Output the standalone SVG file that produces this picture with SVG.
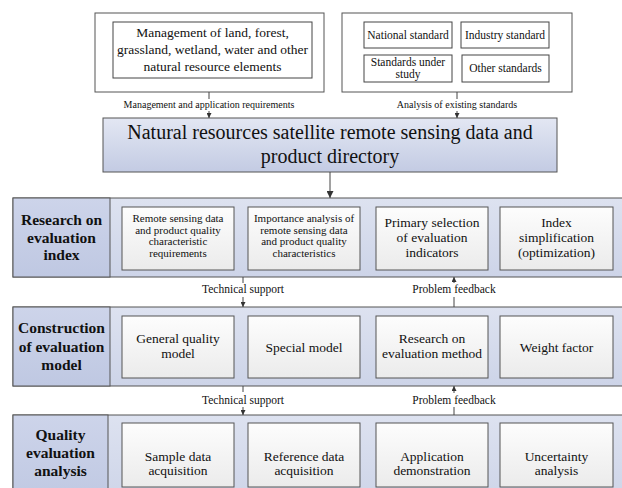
<svg xmlns="http://www.w3.org/2000/svg" width="622" height="488" viewBox="0 0 622 488">
<defs>
<linearGradient id="gMain" x1="0" y1="0" x2="0" y2="1"><stop offset="0" stop-color="#e3e7f3"/><stop offset="1" stop-color="#c3cbe3"/></linearGradient>
<linearGradient id="gLabel" x1="0" y1="0" x2="0" y2="1"><stop offset="0" stop-color="#cdd4ea"/><stop offset="1" stop-color="#bfc8e2"/></linearGradient>
<linearGradient id="gBand" x1="0" y1="0" x2="0" y2="1"><stop offset="0" stop-color="#dde2f0"/><stop offset="1" stop-color="#cdd4e8"/></linearGradient>
<linearGradient id="gBox" x1="0" y1="0" x2="0" y2="1"><stop offset="0" stop-color="#fdfdfd"/><stop offset="1" stop-color="#ebebeb"/></linearGradient>
<marker id="ah" viewBox="0 0 10 10" refX="10" refY="5" markerWidth="7" markerHeight="7" markerUnits="userSpaceOnUse" orient="auto"><path d="M0,0 L10,5 L0,10 z" fill="#333"/></marker>
<marker id="ahs" viewBox="0 0 10 10" refX="10" refY="5" markerWidth="5" markerHeight="5" markerUnits="userSpaceOnUse" orient="auto"><path d="M0,0 L10,5 L0,10 z" fill="#333"/></marker>
</defs>
<style>
text{font-family:"Liberation Serif","Times New Roman",serif;fill:#111;text-anchor:middle}
.outer{fill:#fff;stroke:#555;stroke-width:1}
.sbox{fill:#fff;stroke:#444;stroke-width:1}
.band{fill:url(#gBand);stroke:#555;stroke-width:1}
.lab{fill:url(#gLabel);stroke:#555;stroke-width:1}
.box{fill:url(#gBox);stroke:#555;stroke-width:1}
.main{fill:url(#gMain);stroke:#555;stroke-width:1}
.t10{font-size:10px}
.t11{font-size:11px}
.t115{font-size:11.5px}
.t12{font-size:13.5px}
.t14{font-size:13.5px}
.t16{font-size:15.5px;font-weight:bold}
.t18{font-size:20px}
.ln{stroke:#444;stroke-width:1;fill:none}
</style>

<g id="top-left">
<rect class="outer" x="95" y="13" width="229" height="79"/>
<rect class="sbox" x="113" y="22" width="199" height="56"/>
<text class="t12" x="212.5" y="37">Management of land, forest,</text>
<text class="t12" x="212.5" y="54">grassland, wetland, water and other</text>
<text class="t12" x="212.5" y="71">natural resource elements</text>
</g>

<g id="top-right">
<rect class="outer" x="342" y="13" width="230" height="79"/>
<rect class="sbox" x="364" y="22" width="88" height="26"/>
<text class="t115" x="408" y="39">National standard</text>
<rect class="sbox" x="461" y="22" width="88" height="26"/>
<text class="t115" x="505" y="39">Industry standard</text>
<rect class="sbox" x="364" y="55" width="88" height="27"/>
<text class="t115" x="408" y="66">Standards under</text>
<text class="t115" x="408" y="78">study</text>
<rect class="sbox" x="462" y="55" width="87" height="27"/>
<text class="t115" x="505.5" y="72">Other standards</text>
</g>

<g id="directory">
<rect class="main" x="103" y="118" width="454" height="54"/>
<text class="t18" x="330" y="139">Natural resources satellite remote sensing data and</text>
<text class="t18" x="330" y="163">product directory</text>
</g>

<g id="band1">
<rect class="band" x="13" y="198" width="615" height="79"/>
<rect class="lab" x="13" y="198" width="97" height="79"/>
<text class="t16" x="61.5" y="225">Research on</text>
<text class="t16" x="61.5" y="242.5">evaluation</text>
<text class="t16" x="61.5" y="260">index</text>
</g>
<g id="b1n1"><rect class="box" x="122" y="207" width="112" height="63"/>
<text class="t11" x="178" y="222">Remote sensing data</text>
<text class="t11" x="178" y="233.5">and product quality</text>
<text class="t11" x="178" y="245">characteristic</text>
<text class="t11" x="178" y="256.5">requirements</text></g>
<g id="b1n2"><rect class="box" x="248" y="207" width="112" height="63"/>
<text class="t11" x="304" y="222">Importance analysis of</text>
<text class="t11" x="304" y="233.5">remote sensing data</text>
<text class="t11" x="304" y="245">and product quality</text>
<text class="t11" x="304" y="256.5">characteristics</text></g>
<g id="b1n3"><rect class="box" x="376" y="207" width="112" height="63"/>
<text class="t14" x="432" y="227">Primary selection</text>
<text class="t14" x="432" y="242">of evaluation</text>
<text class="t14" x="432" y="257">indicators</text></g>
<g id="b1n4"><rect class="box" x="500" y="207" width="113" height="63"/>
<text class="t14" x="556.5" y="227">Index</text>
<text class="t14" x="556.5" y="242">simplification</text>
<text class="t14" x="556.5" y="257">(optimization)</text></g>

<g id="band2">
<rect class="band" x="13" y="307" width="615" height="79"/>
<rect class="lab" x="13" y="307" width="97" height="79"/>
<text class="t16" x="61.5" y="333">Construction</text>
<text class="t16" x="61.5" y="351.5">of evaluation</text>
<text class="t16" x="61.5" y="370">model</text>
</g>
<g id="b2n1"><rect class="box" x="122" y="316" width="112" height="62"/>
<text class="t14" x="178" y="343">General quality</text>
<text class="t14" x="178" y="358">model</text></g>
<g id="b2n2"><rect class="box" x="248" y="316" width="112" height="62"/>
<text class="t14" x="304" y="352">Special model</text></g>
<g id="b2n3"><rect class="box" x="376" y="316" width="112" height="62"/>
<text class="t14" x="432" y="343">Research on</text>
<text class="t14" x="432" y="358">evaluation method</text></g>
<g id="b2n4"><rect class="box" x="500" y="316" width="113" height="62"/>
<text class="t14" x="556.5" y="352">Weight factor</text></g>

<g id="band3">
<rect class="band" x="13" y="415" width="615" height="90"/>
<rect class="lab" x="13" y="415" width="95" height="90"/>
<text class="t16" x="60.5" y="440">Quality</text>
<text class="t16" x="60.5" y="458">evaluation</text>
<text class="t16" x="60.5" y="476">analysis</text>
</g>
<g id="b3n1"><rect class="box" x="122" y="423" width="112" height="64"/>
<text class="t14" x="178" y="461">Sample data</text>
<text class="t14" x="178" y="475">acquisition</text></g>
<g id="b3n2"><rect class="box" x="248" y="423" width="112" height="64"/>
<text class="t14" x="304" y="461">Reference data</text>
<text class="t14" x="304" y="475">acquisition</text></g>
<g id="b3n3"><rect class="box" x="376" y="423" width="112" height="64"/>
<text class="t14" x="432" y="461">Application</text>
<text class="t14" x="432" y="475">demonstration</text></g>
<g id="b3n4"><rect class="box" x="500" y="423" width="113" height="64"/>
<text class="t14" x="556.5" y="461">Uncertainty</text>
<text class="t14" x="556.5" y="475">analysis</text></g>

<g id="connectors">
<line class="ln" x1="209" y1="92" x2="209" y2="99"/>
<line class="ln" x1="209" y1="111" x2="209" y2="118" marker-end="url(#ahs)"/>
<text class="t10" x="209" y="108">Management and application requirements</text>
<line class="ln" x1="457" y1="92" x2="457" y2="99"/>
<line class="ln" x1="457" y1="111" x2="457" y2="118" marker-end="url(#ahs)"/>
<text class="t10" x="457" y="108">Analysis of existing standards</text>
<line class="ln" x1="330" y1="172" x2="330" y2="198" marker-end="url(#ah)"/>

<line class="ln" x1="243" y1="277" x2="243" y2="283"/>
<text class="t115" x="243" y="293">Technical support</text>
<line class="ln" x1="243" y1="297" x2="243" y2="307" marker-end="url(#ahs)"/>
<line class="ln" x1="454" y1="283" x2="454" y2="277" marker-end="url(#ahs)"/>
<text class="t115" x="454" y="293">Problem feedback</text>
<line class="ln" x1="454" y1="297" x2="454" y2="307"/>

<line class="ln" x1="243" y1="386" x2="243" y2="392"/>
<text class="t115" x="243" y="404">Technical support</text>
<line class="ln" x1="243" y1="407" x2="243" y2="415" marker-end="url(#ahs)"/>
<line class="ln" x1="454" y1="393" x2="454" y2="386" marker-end="url(#ahs)"/>
<text class="t115" x="454" y="404">Problem feedback</text>
<line class="ln" x1="454" y1="407" x2="454" y2="415"/>
</g>
</svg>
